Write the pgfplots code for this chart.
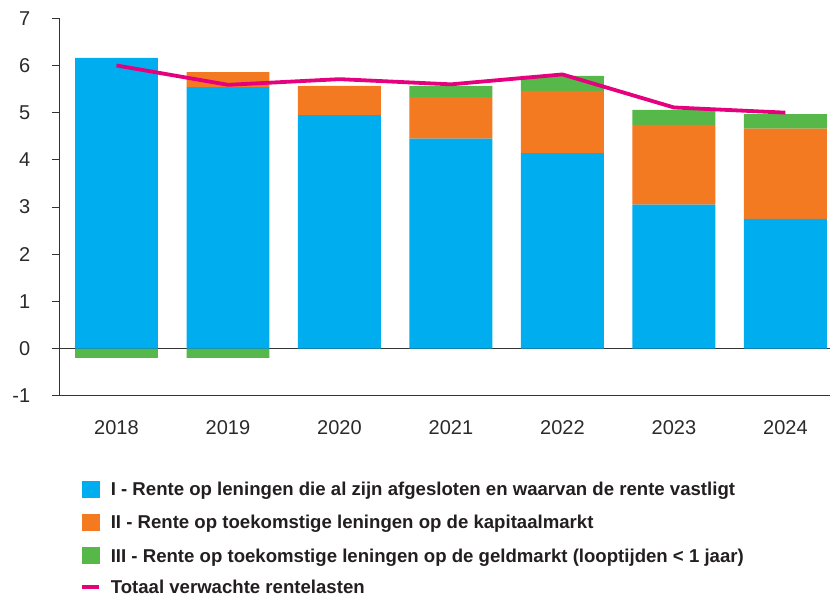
\documentclass[border=0pt]{standalone}
\usepackage{fontspec}
\setmainfont{Liberation Sans}
\usepackage{pgfplots}
\pgfplotsset{compat=1.18}
\definecolor{cI}{HTML}{00AEEF}
\definecolor{cII}{HTML}{F47A22}
\definecolor{cIII}{HTML}{55B848}
\definecolor{cTot}{HTML}{E5007E}
\definecolor{axisgray}{HTML}{333333}
\definecolor{tickgray}{HTML}{2A2A2A}
\definecolor{legtext}{HTML}{231F20}
\pgfplotsset{
  common/.style={
    scale only axis, width=770.7pt, height=377.4pt,
    xmin=-0.513, xmax=6.4, ymin=-1, ymax=7,
  },
}
\begin{document}
\begin{tikzpicture}
\useasboundingbox (-59.3pt,-201.3pt) rectangle (771.7pt,395.7pt);
% main visible axis: frame, ticks, zero line, negative bars, legend
\begin{axis}[common, name=ax,
  axis lines*=left,
  axis line style={draw=axisgray, line width=0.9pt},
  xtick={0,1,2,3,4,5,6},
  xticklabels={2018,2019,2020,2021,2022,2023,2024},
  x tick style={draw=none},
  ytick={-1,0,1,2,3,4,5,6,7},
  tick align=outside, major tick length=7.6pt,
  y tick style={draw=axisgray, line width=0.9pt},
  tick label style={font=\fontsize{20}{24}\selectfont, text=tickgray},
  x tick label style={yshift=-14pt},
  y tick label style={xshift=-18pt},
  /pgf/number format/assume math mode=true,
  extra y ticks={0}, extra y tick labels={},
  extra y tick style={grid=major, major grid style={draw=axisgray, line width=0.9pt}},
  ybar, bar width=0.744, bar shift=0pt,
  legend cell align=left,
  legend style={at={(0,0)}, anchor=north west, xshift=21pt, yshift=-85pt,
    draw=none, fill=none, inner sep=0pt, outer sep=0pt, row sep=16.9pt,
    font=\bfseries\fontsize{18.6}{22}\selectfont, text=legtext,
    nodes={inner sep=0pt, text height=13.3pt, text depth=0pt},
    /tikz/every odd column/.append style={column sep=10pt}},
]
\addlegendimage{legend image code/.code={\fill[cI] (0pt,-8pt) rectangle (16.7pt,8pt);}}
\addlegendentry{I - Rente op leningen die al zijn afgesloten en waarvan de rente vastligt}
\addlegendimage{legend image code/.code={\fill[cII] (0pt,-8pt) rectangle (16.7pt,8pt);}}
\addlegendentry{II - Rente op toekomstige leningen op de kapitaalmarkt}
\addlegendimage{legend image code/.code={\fill[cIII] (0pt,-8pt) rectangle (16.7pt,8pt);}}
\addlegendentry{III - Rente op toekomstige leningen op de geldmarkt (looptijden < 1 jaar)}
\addlegendimage{legend image code/.code={\draw[cTot, line width=3.8pt] (0pt,0pt) -- (16.7pt,0pt);}}
\addlegendentry{Totaal verwachte rentelasten}
% negative part of series III
\addplot[fill=cIII, draw=none, forget plot] coordinates {(0,-0.2) (1,-0.2)};
\end{axis}
% stacked bars
\begin{axis}[common, hide axis, ybar stacked, bar width=0.744]
\addplot[fill=cI, draw=none] coordinates {(0,6.16) (1,5.54) (2,4.95) (3,4.45) (4,4.14) (5,3.05) (6,2.75)};
\addplot[fill=cII, draw=none] coordinates {(0,0) (1,0.32) (2,0.62) (3,0.88) (4,1.32) (5,1.69) (6,1.91)};
\addplot[fill=cIII, draw=none] coordinates {(0,0) (1,0) (2,0) (3,0.24) (4,0.32) (5,0.32) (6,0.31)};
\end{axis}
% total line
\begin{axis}[common, hide axis]
\addplot[cTot, line width=3.8pt, mark=none, line join=round] coordinates {(0,6.0) (1,5.59) (2,5.71) (3,5.60) (4,5.81) (5,5.11) (6,5.0)};
\end{axis}
\end{tikzpicture}
\end{document}
